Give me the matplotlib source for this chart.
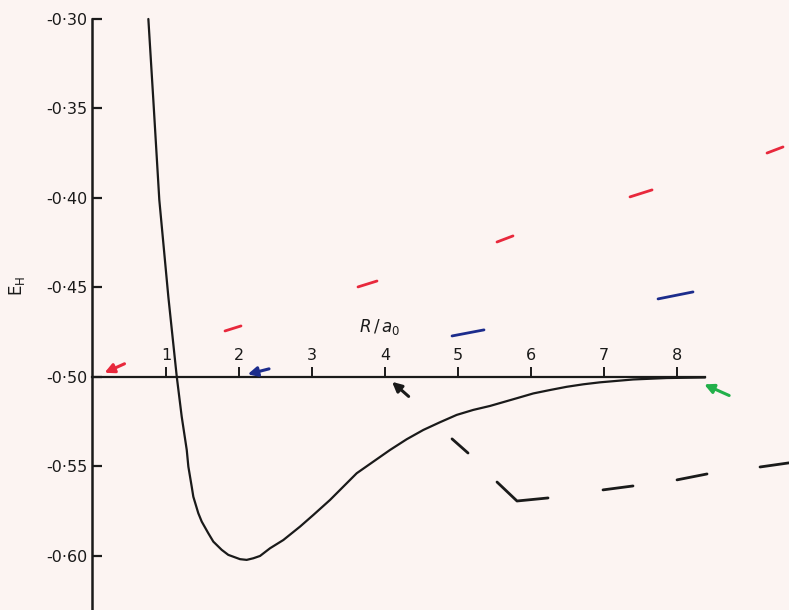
import numpy as np
import matplotlib.pyplot as plt

# potential energy curve
R_curve = [0.758, 0.826, 0.908, 1.032, 1.147, 1.215, 1.284, 1.306, 1.352, 1.374,
           1.442, 1.489, 1.579, 1.648, 1.763, 1.853, 2.014, 2.105, 2.196, 2.288,
           2.425, 2.607, 2.836, 3.018, 3.247, 3.612, 3.840, 4.068, 4.297, 4.525,
           4.753, 4.982, 5.210, 5.438, 5.804, 6.032, 6.260, 6.489, 6.717, 6.945,
           7.401, 7.859, 8.384]
E_curve = [-0.300, -0.3452, -0.4011, -0.4553, -0.4998, -0.5222, -0.5408, -0.5501, -0.5613, -0.5669,
           -0.5761, -0.5808, -0.5873, -0.5920, -0.5966, -0.5994, -0.6018, -0.6022, -0.6013, -0.6000,
           -0.5957, -0.5911, -0.5836, -0.5771, -0.5687, -0.5538, -0.5473, -0.5408, -0.5348, -0.5296,
           -0.5253, -0.5212, -0.5184, -0.5162, -0.5119, -0.5092, -0.5073, -0.5055, -0.5041, -0.5030,
           -0.5014, -0.5006, -0.5003]

# short hand drawn marks: (R0, R1), (E0, E1)
red_R = [(1.808, 2.027), (3.630, 3.890), (5.534, 5.753), (7.356, 7.658), (9.233, 9.452)]
red_E = [(-0.4743, -0.4715), (-0.4497, -0.4464), (-0.4246, -0.4212), (-0.3994, -0.3955), (-0.3749, -0.3715)]

blue_R = [(4.918, 5.356), (7.740, 8.219)]
blue_E = [(-0.4771, -0.4737), (-0.4564, -0.4525)]

black_R = [(4.918, 5.137), (5.534, 5.808, 6.233), (6.986, 7.397), (8.000, 8.411), (9.137, 9.534)]
black_E = [(-0.5346, -0.5425), (-0.5587, -0.5693, -0.5676), (-0.5631, -0.5609), (-0.5575, -0.5542), (-0.5503, -0.5480)]

# arrows: (tail R, tail E, tip R, tip E)
arrows = {
    "#e8283c": (0.466, -0.4920, 0.123, -0.4983),
    "#1c2c8c": (2.448, -0.4951, 2.082, -0.4989),
    "#1a1a1a": (4.352, -0.5119, 4.068, -0.5017),
    "#22b04a": (8.749, -0.5110, 8.338, -0.5035),
}

x_ticks = [1, 2, 3, 4, 5, 6, 7, 8]
y_ticks = [-0.30, -0.35, -0.40, -0.45, -0.50, -0.55, -0.60]
y_labels = ["-0·30", "-0·35", "-0·40", "-0·45", "-0·50", "-0·55", "-0·60"]

bg = "#fcf4f2"
ink = "#1a1a1a"

fig = plt.figure(figsize=(7.89, 6.10), dpi=100, facecolor=bg)
ax = fig.add_axes([92/789, 0, 697/789, 1])
ax.set_facecolor(bg)

xmin, xmax = -0.014, 9.534
ymin, ymax = -0.6302, -0.2894
ax.set_xlim(xmin, xmax)
ax.set_ylim(ymin, ymax)

ax.plot(R_curve, E_curve, color=ink, lw=1.6, solid_capstyle="round", solid_joinstyle="round")

for r, e in zip(red_R, red_E):
    ax.plot(r, e, color="#e8283c", lw=2.0, solid_capstyle="round")
for r, e in zip(blue_R, blue_E):
    ax.plot(r, e, color="#1c2c8c", lw=2.0, solid_capstyle="round")
for r, e in zip(black_R, black_E):
    ax.plot(r, e, color=ink, lw=2.0, solid_capstyle="round")

for c, (r0, e0, r1, e1) in arrows.items():
    ax.annotate("", xy=(r1, e1), xytext=(r0, e0),
                arrowprops=dict(arrowstyle="-|>", color=c, lw=2.2, mutation_scale=14))

# axes drawn like the original: y spine on left, R axis across at E = -0.5
for s in ["right", "bottom"]:
    ax.spines[s].set_visible(False)
ax.spines["left"].set_bounds(ymin, -0.30)
ax.spines["left"].set_linewidth(1.8)
ax.spines["left"].set_color(ink)
ax.spines["top"].set_position(("data", -0.50))
ax.spines["top"].set_bounds(xmin, 8.384)
ax.spines["top"].set_linewidth(1.6)
ax.spines["top"].set_color(ink)

ax.xaxis.set_ticks_position("top")
ax.set_xticks(x_ticks)
ax.set_xticklabels([str(v) for v in x_ticks])
ax.tick_params(axis="x", direction="out", length=7, width=1.4, color=ink,
               labelsize=11.5, labelcolor=ink, pad=3)

ax.set_yticks(y_ticks)
ax.set_yticklabels(y_labels)
ax.tick_params(axis="y", direction="in", length=7, width=1.6, color=ink,
               labelsize=11.5, labelcolor=ink, pad=3)

ax.text(3.93, -0.472, r"$R\,/\,a_0$", fontsize=12, ha="center", va="center", color=ink)
fig.text(17/789, 1 - 286/610, r"E$_\mathrm{H}$", rotation=90, fontsize=12,
         ha="center", va="center", color=ink)

fig.savefig("out.png", dpi=100, facecolor=bg)
